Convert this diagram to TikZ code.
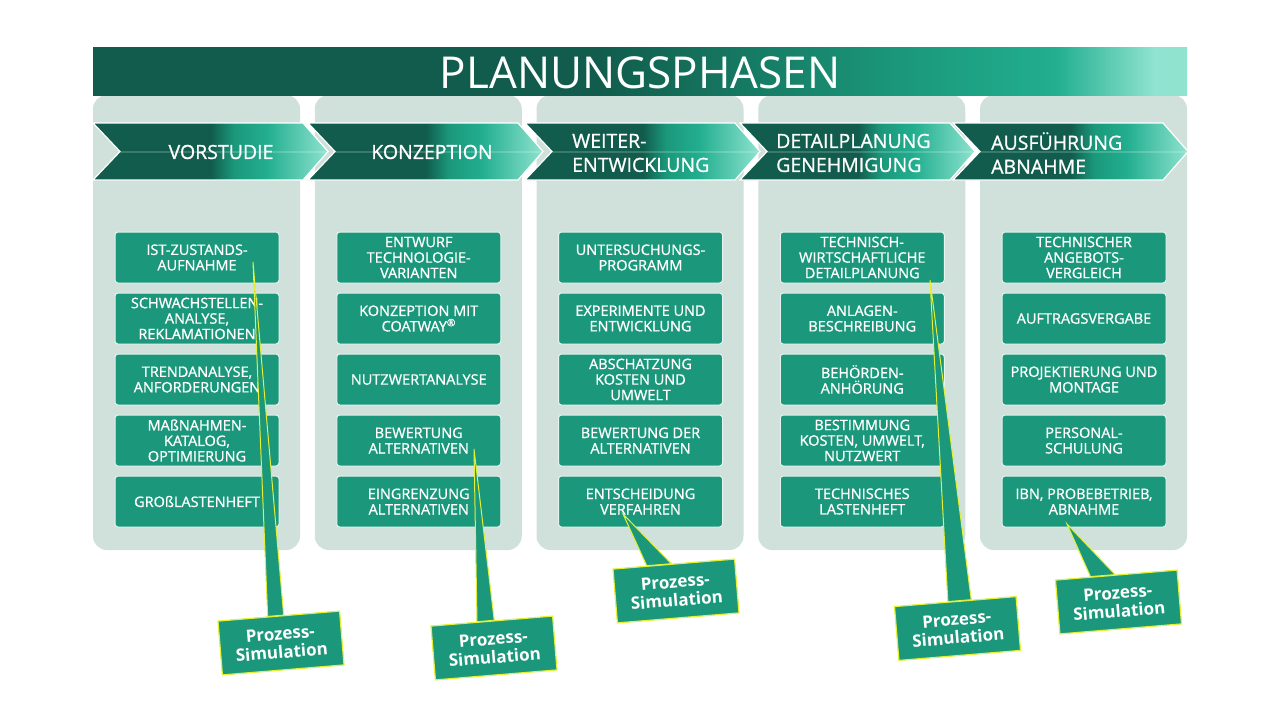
\documentclass[tikz,border=0pt]{standalone}
\usepackage{fontspec}
\setmainfont{Open Sans}
\newfontfamily\medfont[FakeBold=0.9]{Open Sans}
\usetikzlibrary{calc}
\definecolor{dk}{HTML}{115C4C}
\definecolor{tl}{HTML}{1B987B}
\definecolor{tlb}{HTML}{22AE8F}
\definecolor{lt}{HTML}{8FE3CF}
\definecolor{pnl}{HTML}{D0E0DA}
\definecolor{ylw}{HTML}{E2F03A}
\definecolor{bdr}{HTML}{E6F3EE}
\pgfdeclarehorizontalshading{bannershade}{100bp}{color(0bp)=(dk); color(25bp)=(dk); color(48bp)=(dk); color(62bp)=(tl); color(69bp)=(tlb); color(73.5bp)=(lt); color(75bp)=(lt); color(100bp)=(lt)}
\pgfdeclarehorizontalshading{chevshade}{100bp}{color(0bp)=(dk); color(25bp)=(dk); color(50bp)=(dk); color(55bp)=(tl); color(62bp)=(tlb); color(75bp)=(lt); color(100bp)=(lt)}
\pgfdeclarelayer{ptr}
\pgfdeclarelayer{top}
\pgfsetlayers{main,ptr,top}
\tikzset{
  panel/.style={fill=pnl, rounded corners=14, minimum width=207, minimum height=455, inner sep=0},
  boxst/.style={draw=bdr, line width=1, fill=tl, rounded corners=3, minimum width=164, minimum height=51, inner sep=0, align=center, text=white, font=\medfont\fontsize{14.5}{15.5}\selectfont},
  chevtxt/.style={text=white, align=left, inner sep=0, font=\medfont\fontsize{19.5}{24}\selectfont},
  callst/.style={fill=tl, draw=ylw, line width=1.2, minimum width=122, minimum height=54, inner sep=0, align=center, text=white, font=\bfseries\fontsize{17}{18.5}\selectfont, rotate=4.7},
  pointer/.style={fill=tl, draw=ylw, line width=1}
}
\begin{document}
\begin{tikzpicture}[x=1pt,y=-1pt]
\useasboundingbox[fill=white] (0,0) rectangle (1280,720);
% panels
\foreach \c/\nm in {0/p1,1/p2,2/p3,3/p4,4/p5}{
  \node[panel] (\nm) at ({93+221.75*\c+103.5},322.5) {};
}
% banner
\path[shading=bannershade] (93,47) rectangle (1187,95);
\node[text=white, inner sep=0, font=\fontsize{44}{44}\selectfont] (title) at (640,72.5) {PLANUNGSPHASEN};
% chevrons
\foreach \L in {93,308,525,740,953}{
  \path[shading=chevshade, draw=white, line width=1.2] (\L,123) -- ({\L+210},123) -- ({\L+235},151.5) -- ({\L+210},180) -- (\L,180) -- ({\L+27},151.5) -- cycle;
  \draw[white, opacity=0.18, line width=2] ({\L+27},151.5) -- ({\L+233},151.5);
}
\node[chevtxt] (h1) at (221,152) {VORSTUDIE};
\node[chevtxt] (h2) at (432,152) {KONZEPTION};
\node[chevtxt, anchor=west] (h3) at (572,153) {WEITER-\\ENTWICKLUNG};
\node[chevtxt, anchor=west] (h4) at (776,153) {DETAILPLANUNG\\GENEHMIGUNG};
\node[chevtxt, anchor=west] (h5) at (991,153) {AUSFÜHRUNG\\ABNAHME};
% column 1
\node[boxst] (b11) at (197,257.5) {IST-ZUSTANDS-\\AUFNAHME};
\node[boxst] (b12) at (197,318.5) {SCHWACHSTELLEN-\\ANALYSE,\\REKLAMATIONEN};
\node[boxst] (b13) at (197,379.5) {TRENDANALYSE,\\ANFORDERUNGEN};
\node[boxst] (b14) at (197,440.5) {MAßNAHMEN-\\KATALOG,\\OPTIMIERUNG};
\node[boxst] (b15) at (197,501.5) {GROßLASTENHEFT};
% column 2
\node[boxst] (b21) at (418.75,257.5) {ENTWURF\\TECHNOLOGIE-\\VARIANTEN};
\node[boxst] (b22) at (418.75,318.5) {KONZEPTION MIT\\COATWAY\textsuperscript{®}};
\node[boxst] (b23) at (418.75,379.5) {NUTZWERTANALYSE};
\node[boxst] (b24) at (418.75,440.5) {BEWERTUNG\\ALTERNATIVEN};
\node[boxst] (b25) at (418.75,501.5) {EINGRENZUNG\\ALTERNATIVEN};
% column 3
\node[boxst] (b31) at (640.5,257.5) {UNTERSUCHUNGS-\\PROGRAMM};
\node[boxst] (b32) at (640.5,318.5) {EXPERIMENTE UND\\ENTWICKLUNG};
\node[boxst] (b33) at (640.5,379.5) {ABSCHATZUNG\\KOSTEN UND\\UMWELT};
\node[boxst] (b34) at (640.5,440.5) {BEWERTUNG DER\\ALTERNATIVEN};
\node[boxst] (b35) at (640.5,501.5) {ENTSCHEIDUNG\\VERFAHREN};
% column 4
\node[boxst] (b41) at (862.25,257.5) {TECHNISCH-\\WIRTSCHAFTLICHE\\DETAILPLANUNG};
\node[boxst] (b42) at (862.25,318.5) {ANLAGEN-\\BESCHREIBUNG};
\node[boxst] (b43) at (862.25,379.5) {BEHÖRDEN-\\ANHÖRUNG};
\node[boxst] (b44) at (862.25,440.5) {BESTIMMUNG\\KOSTEN, UMWELT,\\NUTZWERT};
\node[boxst] (b45) at (862.25,501.5) {TECHNISCHES\\LASTENHEFT};
% column 5
\node[boxst] (b51) at (1084,257.5) {TECHNISCHER\\ANGEBOTS-\\VERGLEICH};
\node[boxst] (b52) at (1084,318.5) {AUFTRAGSVERGABE};
\node[boxst] (b53) at (1084,379.5) {PROJEKTIERUNG UND\\MONTAGE};
\node[boxst] (b54) at (1084,440.5) {PERSONAL-\\SCHULUNG};
\node[boxst] (b55) at (1084,501.5) {IBN, PROBEBETRIEB,\\ABNAHME};
% callouts
\begin{pgfonlayer}{top}
\node[callst] (ps1) at (281,643) {Prozess-\\Simulation};
\node[callst] (ps2) at (494,648) {Prozess-\\Simulation};
\node[callst] (ps3) at (676,591) {Prozess-\\Simulation};
\node[callst] (ps4) at (957.5,628.5) {Prozess-\\Simulation};
\node[callst] (ps5) at (1118.5,602) {Prozess-\\Simulation};
\end{pgfonlayer}
\coordinate (t1) at ($(b11.center)+(56,4.5)$);
\coordinate (t2) at ($(b24.center)+(55.25,8.5)$);
\coordinate (t3) at ($(b35.center)+(-17.5,12.5)$);
\coordinate (t4) at ($(b41.center)+(67.75,22.5)$);
\coordinate (t5) at ($(b55.center)+(-17,22.5)$);
\begin{pgfonlayer}{ptr}
\path[pointer] (t1) -- ($(ps1.north west)!0.41!(ps1.north east)$) -- ($(ps1.north west)!0.54!(ps1.north east)$) -- cycle;
\path[pointer] (t2) -- ($(ps2.north west)!0.38!(ps2.north east)$) -- ($(ps2.north west)!0.52!(ps2.north east)$) -- cycle;
\path[pointer] (t3) -- ($(ps3.north west)!0.28!(ps3.north east)$) -- ($(ps3.north west)!0.48!(ps3.north east)$) -- cycle;
\path[pointer] (t4) -- ($(ps4.north west)!0.44!(ps4.north east)$) -- ($(ps4.north west)!0.63!(ps4.north east)$) -- cycle;
\path[pointer] (t5) -- ($(ps5.north west)!0.29!(ps5.north east)$) -- ($(ps5.north west)!0.49!(ps5.north east)$) -- cycle;
\end{pgfonlayer}
\end{tikzpicture}
\end{document}
